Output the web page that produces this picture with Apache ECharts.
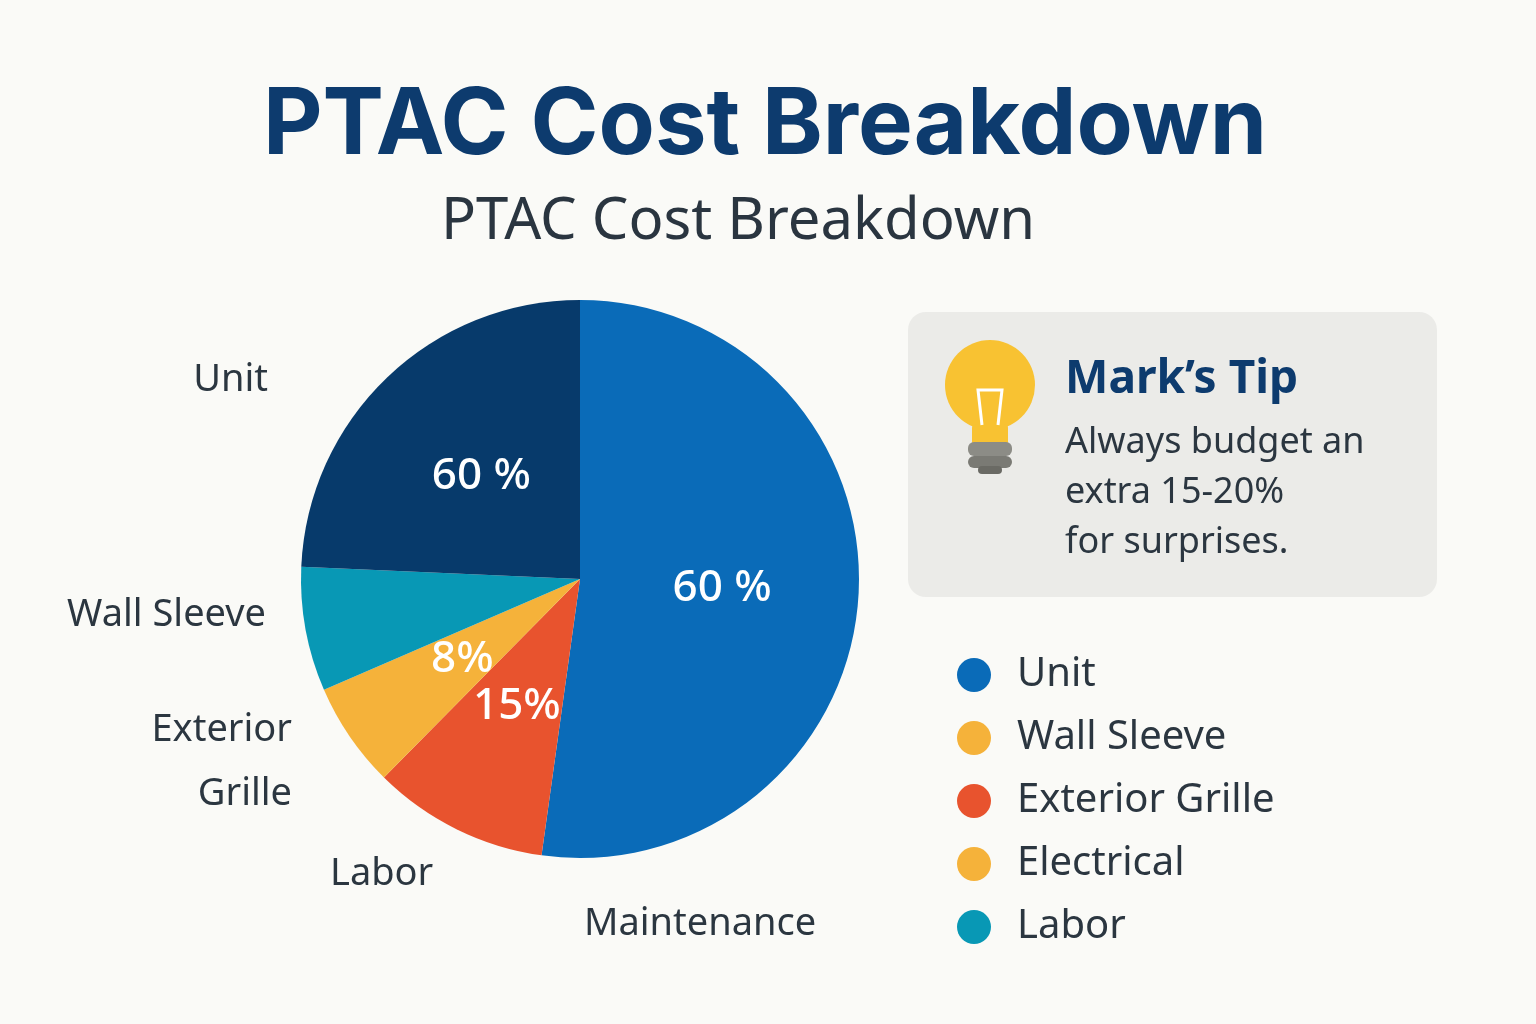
<!DOCTYPE html>
<html><head><meta charset="utf-8">
<script src="https://cdn.jsdelivr.net/npm/echarts@6/dist/echarts.min.js"></script>
<style>html,body{margin:0;background:#fafaf7}#c{width:1536px;height:1024px}</style>
</head><body><div id="c"></div>
<script>
const sliceNames = ['Unit','Exterior Grille','Electrical','Labor','Wall Sleeve'];
const sliceValues = [52.2, 10.2, 6.1, 7.2, 24.3];
const sliceColors = ['#0a6bb8','#e8532e','#f5b23a','#0898b5','#073a6b'];
const sliceLabels = ['60 %','15%','8%','','60 %'];
const outerLabels = ['Unit','Wall Sleeve','Exterior\nGrille','Labor','Maintenance'];
const legendNames = ['Unit','Wall Sleeve','Exterior Grille','Electrical','Labor'];
const legendColors = ['#0a6bb8','#f5b23a','#e8532e','#f5b23a','#0898b5'];
const tipTitle = 'Mark\u2019s Tip';
const tipText = 'Always budget an\nextra 15-20%\nfor surprises.';

const chart = echarts.init(document.getElementById('c'));
const outerPos = [[268,380,'right'],[266,615,'right'],[292,762,'right'],[330,874,'left'],[584,924,'left']];
const g = [];
outerLabels.forEach((t,i)=>g.push({type:'text',left:undefined,x:outerPos[i][0],y:outerPos[i][1],
  style:{text:t,fill:'#2b3640',font:'38px "Noto Sans"',align:outerPos[i][2],verticalAlign:'middle',lineHeight:64}}));
g.push({type:'rect',shape:{x:908,y:312,width:529,height:285,r:18},style:{fill:'#ebebe8'}});
g.push({type:'circle',shape:{cx:990,cy:385,r:45},style:{fill:'#f8c232'}});
g.push({type:'rect',shape:{x:972,y:424,width:36,height:22,r:4},style:{fill:'#f8c232'}});
g.push({type:'rect',shape:{x:968,y:442,width:44,height:14,r:6},style:{fill:'#8c8c86'}});
g.push({type:'rect',shape:{x:968,y:456,width:44,height:12,r:6},style:{fill:'#7a7a74'}});
g.push({type:'rect',shape:{x:978,y:466,width:24,height:8,r:4},style:{fill:'#6a6a64'}});
g.push({type:'polyline',shape:{points:[[982,425],[978,390],[1002,390],[998,425]]},style:{stroke:'#fff',lineWidth:3,fill:null}});
g.push({type:'text',x:1065,y:380,style:{text:tipTitle,fill:'#0d3b6e',font:'bold 46px "Noto Sans"',verticalAlign:'middle'}});
g.push({type:'text',x:1065,y:493,style:{text:tipText,fill:'#2b3640',font:'36px "Noto Sans"',verticalAlign:'middle',lineHeight:50}});
legendNames.forEach((n,i)=>{
  const y=675+i*63;
  g.push({type:'circle',shape:{cx:974,cy:y,r:17},style:{fill:legendColors[i]}});
  g.push({type:'text',x:1017,y:y,style:{text:n,fill:'#2b3640',font:'40px "Noto Sans"',verticalAlign:'middle'}});
});

chart.setOption({
  backgroundColor:'#fafaf7',
  title:[{text:'PTAC Cost Breakdown',left:760,top:75,textAlign:'center',
    textStyle:{fontSize:92,fontWeight:'bold',color:'#0d3b6e',fontFamily:'Inter'}},
    {text:'PTAC Cost Breakdown',left:733,top:188,textAlign:'center',
    textStyle:{fontSize:58,fontWeight:'normal',color:'#2a3540',fontFamily:'Noto Sans'}}],
  graphic:g,
  series:[{type:'pie',center:[580,579],radius:[0,279],startAngle:90,clockwise:true,
    animation:false,
    label:{position:'inside',color:'#fff',fontSize:44,fontFamily:'Noto Sans',fontWeight:500,
      formatter:p=>sliceLabels[p.dataIndex]},
    labelLine:{show:false},emphasis:{disabled:true},
    data:sliceNames.map((n,i)=>({name:n,value:sliceValues[i],itemStyle:{color:sliceColors[i]}}))
  }]
});
</script></body></html>
